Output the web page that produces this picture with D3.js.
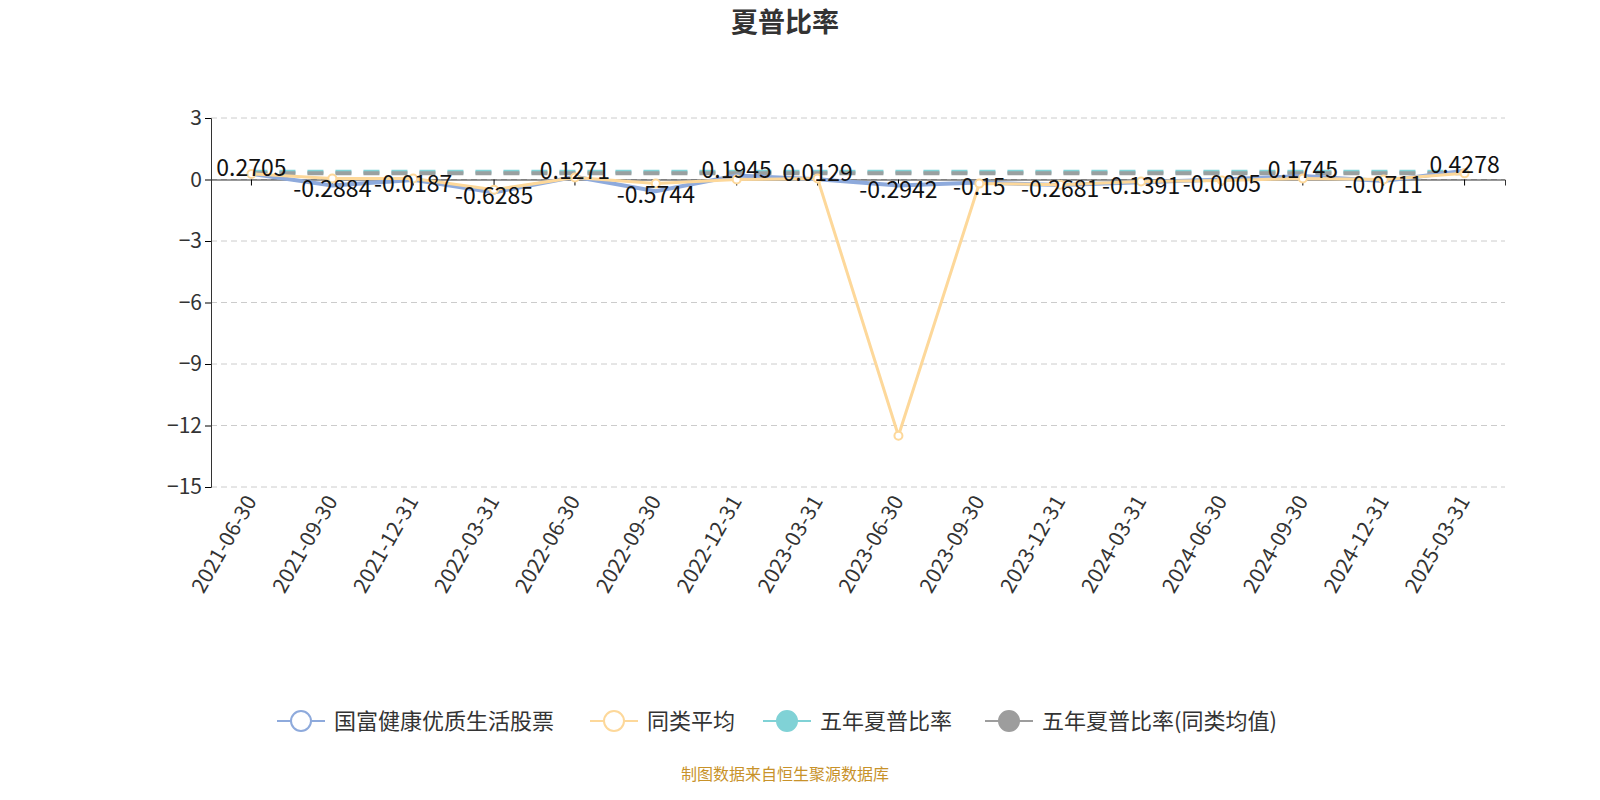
<!DOCTYPE html><html><head><meta charset="utf-8"><script src="https://cdn.jsdelivr.net/npm/d3@7"></script>
<style>body{margin:0;background:#fff}text{font-family:"Microsoft YaHei","Noto Sans CJK SC",sans-serif}</style></head><body><svg id="c" width="1600" height="800"></svg><script>
const categories=["2021-06-30","2021-09-30","2021-12-31","2022-03-31","2022-06-30","2022-09-30","2022-12-31","2023-03-31","2023-06-30","2023-09-30","2023-12-31","2024-03-31","2024-06-30","2024-09-30","2024-12-31","2025-03-31"];
const fundValues=[0.2705,-0.2884,-0.0187,-0.6285,0.1271,-0.5744,0.1945,0.0129,-0.2942,-0.15,-0.2681,-0.1391,-0.0005,0.1745,-0.0711,0.4278];
const avgValues=[0.27,0.05,0.05,-0.5,0.1,-0.2,0.0,0.05,-12.5,-0.2,-0.25,-0.1,-0.05,0.05,0.0,0.3];
const fiveYear=categories.map(()=>0.38);
const fiveYearAvg=categories.map(()=>0.3);
const yTicks=[3,0,-3,-6,-9,-12,-15];
const seriesNames=["国富健康优质生活股票","同类平均","五年夏普比率","五年夏普比率(同类均值)"];
const svg=d3.select("#c");
const L=211,R=1505,T=118,B=487;
const x=d3.scaleBand().domain(categories).range([L,R]);
const y=d3.scaleLinear().domain([-15,3]).range([B,T]);
const cx=d=>x(d)+x.bandwidth()/2;
svg.append("text").attr("x",785).attr("y",32).attr("text-anchor","middle").attr("font-size",27).attr("font-weight","bold").attr("fill","#333").text("夏普比率");
svg.append("g").selectAll("line").data(yTicks).join("line").attr("x1",L).attr("x2",R).attr("y1",d=>y(d)).attr("y2",d=>y(d)).attr("stroke","#ccc").attr("stroke-dasharray","6,4");
const ya=svg.append("g").attr("transform",`translate(${L},0)`).call(d3.axisLeft(y).tickValues(yTicks).tickSize(6).tickFormat(d3.format("d")));
ya.selectAll("text").attr("font-size",21).attr("fill","#333");
ya.select(".domain").attr("stroke","#333");
const xa=svg.append("g").attr("transform",`translate(0,${y(0)})`).call(d3.axisBottom(x).tickSize(6).tickFormat(""));
xa.select(".domain").attr("stroke","#333");
svg.append("g").selectAll("text").data(categories).join("text").attr("font-size",21).attr("fill","#333").attr("text-anchor","end")
 .attr("transform",d=>`translate(${cx(d)+6},${B+14}) rotate(-60)`).text(d=>d);
const line=d3.line().x((d,i)=>cx(categories[i])).y(d=>y(d));
svg.append("path").datum(fiveYear).attr("d",line).attr("fill","none").attr("stroke","#80d2d6").attr("stroke-width",4).attr("stroke-dasharray","16,12");
svg.append("path").datum(fiveYearAvg).attr("d",line).attr("fill","none").attr("stroke","#9aa0a0").attr("stroke-width",4).attr("stroke-dasharray","16,12");
svg.append("path").datum(fundValues).attr("d",line).attr("fill","none").attr("stroke","#8eaadc").attr("stroke-width",4);
svg.append("path").datum(avgValues).attr("d",line).attr("fill","none").attr("stroke","#fdd89a").attr("stroke-width",3);
svg.append("g").selectAll("circle").data(avgValues).join("circle").attr("cx",(d,i)=>cx(categories[i])).attr("cy",d=>y(d)).attr("r",4).attr("fill","#fff").attr("stroke","#fdd89a").attr("stroke-width",2);
svg.append("g").selectAll("text").data(fundValues).join("text").attr("x",(d,i)=>cx(categories[i])).attr("y",d=>y(d)+(d>=0?2:12)).attr("text-anchor","middle").attr("font-size",23).attr("fill","#111").text(d=>d);
const lc=["#8eaadc","#fdd89a","#80d2d6","#9d9d9d"],lf=[false,false,true,true];
const lx=[277,590,763,985];
const lg=svg.append("g");
seriesNames.forEach((n,i)=>{const g=lg.append("g").attr("transform",`translate(${lx[i]},721)`);
g.append("line").attr("x1",0).attr("x2",48).attr("stroke",lc[i]).attr("stroke-width",2);
g.append("circle").attr("cx",24).attr("r",10).attr("fill",lf[i]?lc[i]:"#fff").attr("stroke",lc[i]).attr("stroke-width",2);
g.append("text").attr("x",57).attr("y",8).attr("font-size",22).attr("fill","#333").text(n);});
svg.append("text").attr("x",785).attr("y",780).attr("text-anchor","middle").attr("font-size",16).attr("fill","#c8922a").text("制图数据来自恒生聚源数据库");
</script></body></html>
